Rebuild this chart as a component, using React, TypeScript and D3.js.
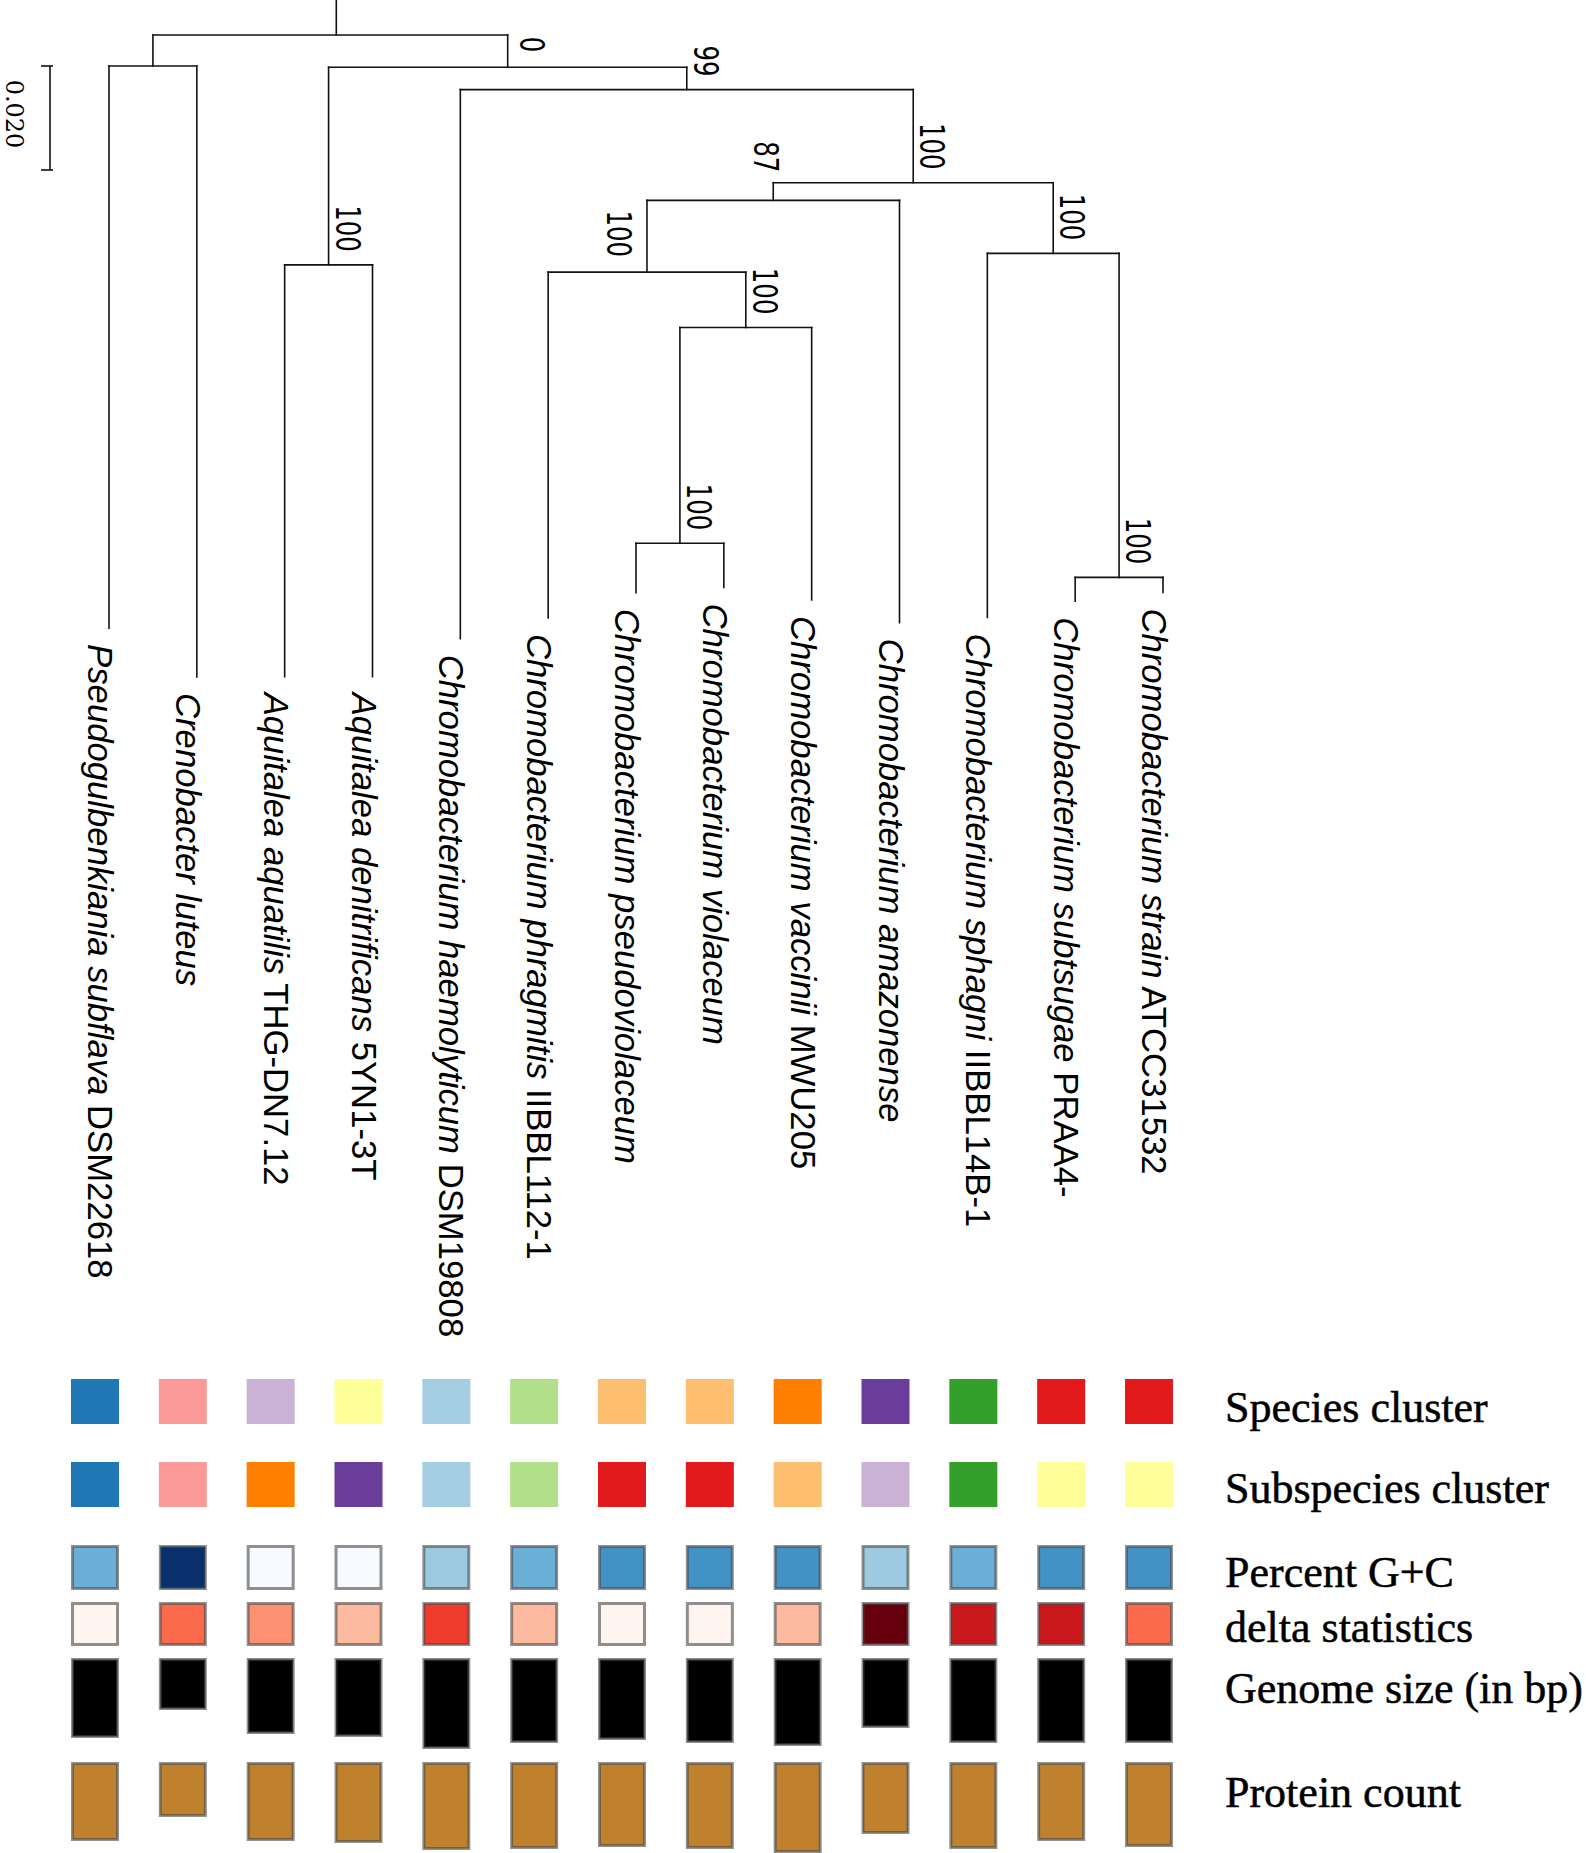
import React, { useMemo } from "react";
import * as d3 from "d3";

// ---------- data ----------
const leafItalic = [
  "Pseudogulbenkiania subflava",
  "Crenobacter luteus",
  "Aquitalea aquatilis",
  "Aquitalea denitrificans",
  "Chromobacterium haemolyticum",
  "Chromobacterium phragmitis",
  "Chromobacterium pseudoviolaceum",
  "Chromobacterium violaceum",
  "Chromobacterium vaccinii",
  "Chromobacterium amazonense",
  "Chromobacterium sphagni",
  "Chromobacterium subtsugae",
  "Chromobacterium strain",
];
const leafStrain = [
  "DSM22618", "", "THG-DN7.12", "5YN1-3T", "DSM19808", "IIBBL112-1", "", "",
  "MWU205", "", "IIBBL14B-1", "PRAA4-", "ATCC31532",
];

// tree table: [id, parent, branch length, bootstrap support]
const treeNodes: [string, string, number, number | null][] = [
  ["root", "", 0, null],
  ["A", "root", 0.00596, null],
  ["L0", "A", 0.1081, null],
  ["L1", "A", 0.1175, null],
  ["B", "root", 0.0062, 0],
  ["AQ", "B", 0.038, 100],
  ["L2", "AQ", 0.0792, null],
  ["L3", "AQ", 0.0792, null],
  ["C", "B", 0.0043, 99],
  ["L4", "C", 0.1056, null],
  ["D", "C", 0.0179, 100],
  ["E", "D", 0.0034, 87],
  ["G", "E", 0.0138, 100],
  ["L5", "G", 0.0665, null],
  ["H", "G", 0.01065, 100],
  ["I", "H", 0.0415, 100],
  ["L6", "I", 0.0095, null],
  ["L7", "I", 0.0085, null],
  ["L8", "H", 0.0524, null],
  ["L9", "E", 0.0812, null],
  ["F", "D", 0.0136, 100],
  ["L10", "F", 0.07, null],
  ["J", "F", 0.0623, 100],
  ["L11", "J", 0.0046, null],
  ["L12", "J", 0.0029, null],
];

const scaleBarValue = 0.02;
const scaleBarLabel = "0.020";

// schemePaired indices
const speciesCluster = [1, 4, 8, 10, 0, 2, 6, 6, 7, 9, 3, 5, 5];
const subspeciesCluster = [1, 4, 7, 9, 0, 2, 5, 5, 6, 8, 3, 10, 10];
const gcPercent = [61.5, 65.5, 57.5, 57.5, 60.5, 61.5, 62.5, 62.5, 62.5, 60.5, 61.5, 62.5, 62.5];
const deltaStat = [0.16, 0.24, 0.22, 0.2, 0.26, 0.2, 0.16, 0.16, 0.2, 0.32, 0.28, 0.28, 0.24];
const genomeSize = [4571000, 2971000, 4343000, 4514000, 5200000, 4857000, 4686000, 4857000, 5029000, 4000000, 4857000, 4857000, 4857000];
const proteinCount = [3950, 2750, 3950, 4050, 4400, 4350, 4250, 4350, 4550, 3600, 4350, 3950, 4250];

const legendLabels = [
  "Species cluster",
  "Subspecies cluster",
  "Percent G+C",
  "delta statistics",
  "Genome size (in bp)",
  "Protein count",
];

// ---------- component ----------
export default function App() {
  const W = 1586;
  const H = 1853;
  const leafX0 = 109;
  const leafX1 = 1163;
  const rootY = 35;
  const yLen = d3.scaleLinear().domain([0, scaleBarValue]).range([0, 104]);

  const tree = useMemo(() => {
    const root = d3
      .stratify<[string, string, number, number | null]>()
      .id((d) => d[0])
      .parentId((d) => (d[1] === "" ? null : d[1]))(treeNodes);
    d3.cluster<any>().size([1, 1]).separation(() => 1)(root as any);
    const lv = (root as any).leaves();
    const xMap = d3
      .scaleLinear()
      .domain([d3.min(lv, (l: any) => l.x) as number, d3.max(lv, (l: any) => l.x) as number])
      .range([leafX0, leafX1]);
    (root as any).eachBefore((n: any) => {
      n.len = n.parent ? n.parent.len + n.data[2] : 0;
      n.px = xMap(n.x);
      n.py = rootY + yLen(n.len);
    });
    return root as any;
  }, []);

  const nodes: any[] = tree.descendants();
  const leaves: any[] = tree.leaves();
  const leafIndex = (n: any) => +n.data[0].slice(1);
  const leafPos: number[] = [];
  leaves.forEach((l) => (leafPos[leafIndex(l)] = l.px));

  const lineColor = "#111";
  const lw = 1.6;

  const segs: { x1: number; y1: number; x2: number; y2: number }[] = [];
  segs.push({ x1: tree.px + 6, y1: 0, x2: tree.px + 6, y2: tree.py });
  nodes.forEach((n) => {
    if (n.parent) segs.push({ x1: n.px, y1: n.parent.py, x2: n.px, y2: n.py });
    if (n.children) {
      const xs = n.children.map((c: any) => c.px);
      segs.push({ x1: d3.min(xs) as number, y1: n.py, x2: d3.max(xs) as number, y2: n.py });
    }
  });

  const supportPlacement: Record<string, { dx: number; dy: number }> = {
    B: { dx: 12, dy: -15 },
    G: { dx: -40, dy: -15 },
    E: { dx: -19, dy: -28 },
  };

  // legend scales
  const paired = d3.schemePaired;
  const gcColor = d3.scaleQuantize<string>().domain([57, 66]).range(d3.schemeBlues[9]);
  const deltaColor = d3.scaleQuantize<string>().domain([0.15, 0.33]).range(d3.schemeReds[9]);
  const genomeH = d3.scaleLinear().domain([0, d3.max(genomeSize) as number]).range([0, 91]);
  const proteinH = d3.scaleLinear().domain([0, d3.max(proteinCount) as number]).range([0, 91]);

  const cellW = 48;
  const cellOff = -38;
  const borderStroke = "rgba(70,70,70,0.6)";

  const rows = [
    { y: 1379, h: () => 45, fill: (i: number) => paired[speciesCluster[i]], border: false },
    { y: 1462, h: () => 45, fill: (i: number) => paired[subspeciesCluster[i]], border: false },
    { y: 1545, h: () => 45, fill: (i: number) => gcColor(gcPercent[i]), border: true },
    { y: 1602, h: () => 44, fill: (i: number) => deltaColor(deltaStat[i]), border: true },
    { y: 1658, h: (i: number) => genomeH(genomeSize[i]), fill: () => "#000", border: true },
    { y: 1762, h: (i: number) => proteinH(proteinCount[i]), fill: () => "#bf812d", border: true },
  ];
  const legendBaselines = [1422, 1503, 1587, 1642, 1703, 1807];

  return (
    <svg
      width={W}
      height={H}
      style={{ position: "absolute", left: 0, top: 0, background: "#fff" }}
    >
      <rect x={0} y={0} width={W} height={H} fill="#fff" />
      {/* scale bar */}
      <g stroke={lineColor} strokeWidth={lw}>
        <line x1={50} x2={50} y1={66} y2={66 + yLen(scaleBarValue)} />
        <line x1={41} x2={53} y1={66} y2={66} />
        <line x1={41} x2={53} y1={66 + yLen(scaleBarValue)} y2={66 + yLen(scaleBarValue)} />
      </g>
      <text
        transform={`translate(6,${66 + yLen(scaleBarValue) / 2 - 4}) rotate(90)`}
        textAnchor="middle"
        fontFamily="'DejaVu Serif', serif"
        fontSize={24}
        fill="#000"
      >
        {scaleBarLabel}
      </text>

      {/* tree */}
      <g stroke={lineColor} strokeWidth={lw} strokeLinecap="square">
        {segs.map((s, i) => (
          <line key={i} x1={s.x1} y1={s.y1} x2={s.x2} y2={s.y2} />
        ))}
      </g>

      {/* bootstrap values */}
      {nodes
        .filter((n) => n.data[3] !== null)
        .map((n) => {
          const p = supportPlacement[n.data[0]] || { dx: 7, dy: -13 };
          return (
            <text
              key={n.data[0]}
              transform={`translate(${n.px + p.dx},${n.py + p.dy}) rotate(90) scale(0.72,1)`}
              textAnchor="end"
              fontFamily="'DejaVu Sans', sans-serif"
              fontSize={34}
              fill="#000"
            >
              {String(n.data[3])}
            </text>
          );
        })}

      {/* leaf labels */}
      {leaves.map((l) => {
        const i = leafIndex(l);
        return (
          <text
            key={i}
            transform={`translate(${l.px - 21},${l.py + 16}) rotate(90)`}
            fontFamily="'Liberation Sans', Arial, sans-serif"
            fontSize={34.7}
            fill="#000"
            style={{ whiteSpace: "pre" }}
          >
            <tspan fontStyle="italic">{leafItalic[i]}</tspan>
            {leafStrain[i] ? <tspan>{" " + leafStrain[i]}</tspan> : null}
          </text>
        );
      })}

      {/* legend cells */}
      {rows.map((r, ri) => (
        <g key={ri}>
          {leafPos.map((x, i) => {
            const h = r.h(i);
            return r.border ? (
              <rect
                key={i}
                x={x + cellOff + 1.5}
                y={r.y + 1.5}
                width={cellW - 3}
                height={h - 3}
                fill={r.fill(i)}
                stroke={borderStroke}
                strokeWidth={3}
              />
            ) : (
              <rect key={i} x={x + cellOff} y={r.y} width={cellW} height={h} fill={r.fill(i)} />
            );
          })}
        </g>
      ))}

      {/* legend labels */}
      {legendLabels.map((t, i) => (
        <text
          key={t}
          x={1225}
          y={legendBaselines[i]}
          fontFamily="'Liberation Serif', 'Times New Roman', serif"
          fontSize={44}
          fill="#000"
          stroke="#000"
          strokeWidth={0.5}
        >
          {t}
        </text>
      ))}
    </svg>
  );
}
